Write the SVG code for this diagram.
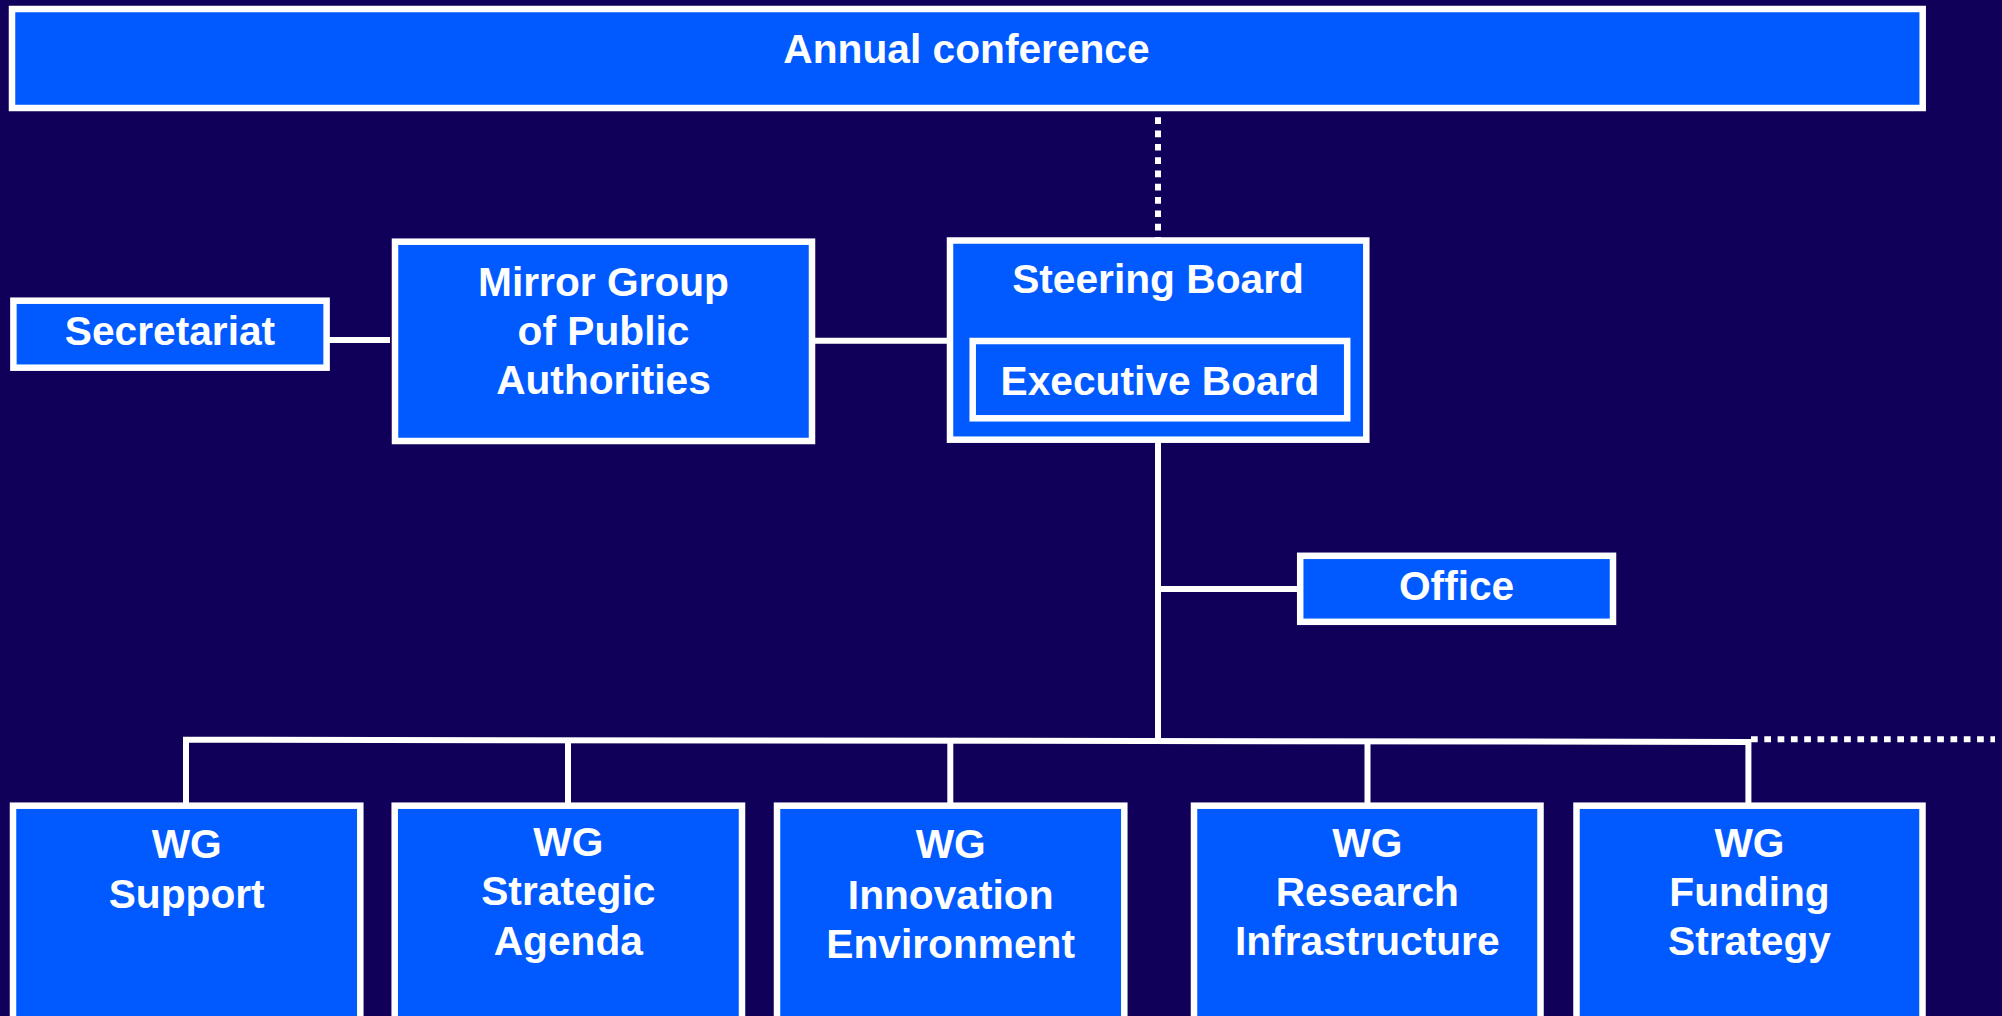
<svg xmlns="http://www.w3.org/2000/svg" width="2002" height="1016" viewBox="0 0 2002 1016">
<style>
.box{fill:#005AFF;stroke:#FFFFFF;stroke-width:6.5}
.t{font-family:"Liberation Sans",Arial,sans-serif;font-weight:bold;font-size:40.7px;fill:#FFFFFF;text-anchor:middle}
.c{stroke:#FFFFFF;stroke-width:6;fill:none}
.d{stroke:#FFFFFF;stroke-width:6;fill:none;stroke-dasharray:6.7 6.6}
</style>
<rect width="2002" height="1016" fill="#10005A"/>
<g id="connectors">
<line class="d" x1="1158" y1="104" x2="1158" y2="240"/>
<line class="c" x1="326" y1="340" x2="390" y2="340"/>
<line class="c" x1="812" y1="340.7" x2="950" y2="340.7"/>
<line class="c" x1="1158" y1="440" x2="1158" y2="741"/>
<line class="c" x1="1158" y1="589" x2="1300" y2="589"/>
<line class="c" x1="183" y1="739.7" x2="1751" y2="741.9"/>
<line class="d" x1="1751" y1="739.3" x2="1995" y2="739.3"/>
<line class="c" x1="186" y1="737" x2="186" y2="805"/>
<line class="c" x1="568" y1="740" x2="568" y2="805"/>
<line class="c" x1="950.3" y1="740" x2="950.3" y2="805"/>
<line class="c" x1="1367.5" y1="741" x2="1367.5" y2="805"/>
<line class="c" x1="1748.4" y1="739" x2="1748.4" y2="805"/>
</g>
<g id="annual">
<rect class="box" x="12" y="9" width="1910.7" height="99"/>
<text class="t" x="966.5" y="63.3">Annual conference</text>
</g>
<g id="secretariat">
<rect class="box" x="13.4" y="300.7" width="313.2" height="67"/>
<text class="t" x="170" y="345">Secretariat</text>
</g>
<g id="mirror">
<rect class="box" x="395" y="241.7" width="417" height="199.3"/>
<text class="t" x="603.5" y="296">Mirror Group</text>
<text class="t" x="603.5" y="345">of Public</text>
<text class="t" x="603.5" y="394">Authorities</text>
</g>
<g id="steering">
<rect class="box" x="950" y="240.5" width="416.3" height="199.2"/>
<text class="t" x="1158" y="293.3">Steering Board</text>
</g>
<g id="executive">
<rect class="box" x="972.7" y="341" width="374.5" height="77.3"/>
<text class="t" x="1160" y="395">Executive Board</text>
</g>
<g id="office">
<rect class="box" x="1300.2" y="555.8" width="312.8" height="66"/>
<text class="t" x="1456.6" y="600">Office</text>
</g>
<g id="wg-support">
<rect class="box" x="13" y="805.7" width="347.3" height="230"/>
<text class="t" x="186.7" y="858.3">WG</text>
<text class="t" x="186.7" y="908.3">Support</text>
</g>
<g id="wg-strategic">
<rect class="box" x="394.7" y="805.7" width="347.3" height="230"/>
<text class="t" x="568.3" y="856">WG</text>
<text class="t" x="568.3" y="905">Strategic</text>
<text class="t" x="568.3" y="955">Agenda</text>
</g>
<g id="wg-innovation">
<rect class="box" x="777" y="805.7" width="347.3" height="230"/>
<text class="t" x="950.7" y="858.3">WG</text>
<text class="t" x="950.7" y="909.3">Innovation</text>
<text class="t" x="950.7" y="958.3">Environment</text>
</g>
<g id="wg-research">
<rect class="box" x="1194" y="805.7" width="346.5" height="230"/>
<text class="t" x="1367.3" y="856.7">WG</text>
<text class="t" x="1367.3" y="905.7">Research</text>
<text class="t" x="1367.3" y="955">Infrastructure</text>
</g>
<g id="wg-funding">
<rect class="box" x="1576.5" y="805.7" width="346" height="230"/>
<text class="t" x="1749.5" y="856.7">WG</text>
<text class="t" x="1749.5" y="905.7">Funding</text>
<text class="t" x="1749.5" y="955">Strategy</text>
</g>
</svg>
